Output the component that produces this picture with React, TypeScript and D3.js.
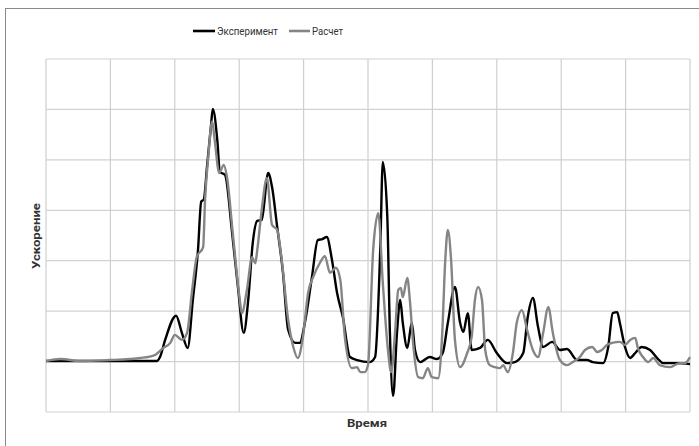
import React from "react";
import * as d3 from "d3";

// Эксперимент (black)
const expTime = [0, 0.84, 1.72, 1.77, 1.85, 2.02, 2.11, 2.2, 2.28, 2.36, 2.41, 2.45, 2.5, 2.56, 2.59, 2.66, 2.7, 2.78, 2.89, 2.98, 3.07, 3.14, 3.21, 3.28, 3.35, 3.45, 3.51, 3.59, 3.68, 3.76, 3.87, 3.94, 4.02, 4.13, 4.22, 4.29, 4.36, 4.44, 4.52, 4.61, 4.72, 4.83, 5.03, 5.11, 5.19, 5.23, 5.3, 5.34, 5.39, 5.45, 5.5, 5.54, 5.61, 5.68, 5.73, 5.81, 5.96, 6.07, 6.16, 6.24, 6.35, 6.43, 6.48, 6.55, 6.61, 6.74, 6.86, 7.0, 7.16, 7.28, 7.41, 7.48, 7.56, 7.64, 7.72, 7.86, 7.98, 8.09, 8.25, 8.4, 8.49, 8.65, 8.73, 8.8, 8.87, 8.91, 8.99, 9.07, 9.15, 9.25, 9.38, 9.49, 9.58, 9.8, 10.0];
const expAccel = [0.01, 0.01, 0.01, 0.09, 0.43, 0.91, 0.57, 0.27, 1.22, 2.21, 3.17, 3.21, 3.86, 4.65, 5.01, 4.39, 3.76, 3.7, 2.55, 1.48, 0.57, 1.22, 2.35, 2.79, 2.81, 3.74, 3.46, 2.67, 1.76, 0.63, 0.37, 0.37, 0.77, 1.68, 2.41, 2.43, 2.47, 2.02, 1.36, 0.88, 0.09, 0.03, -0.01, 0.09, 2.21, 3.96, 2.87, 0.57, -0.68, 0.57, 1.22, 0.77, 0.27, 0.77, 0.23, -0.01, 0.09, 0.05, 0.17, 0.77, 1.48, 0.77, 0.59, 0.96, 0.23, 0.27, 0.43, 0.17, -0.03, -0.01, 0.17, 0.88, 1.26, 0.69, 0.29, 0.39, 0.23, 0.25, 0.03, 0.03, -0.01, -0.03, 0.29, 0.96, 0.98, 0.77, 0.29, 0.07, 0.17, 0.29, 0.23, 0.07, -0.03, -0.03, -0.05];

// Расчет (gray)
const calcTime = [0, 0.22, 0.53, 0.99, 1.3, 1.46, 1.69, 1.82, 1.93, 2.0, 2.11, 2.19, 2.27, 2.34, 2.44, 2.47, 2.52, 2.58, 2.62, 2.69, 2.76, 2.81, 2.9, 3.01, 3.04, 3.12, 3.2, 3.25, 3.28, 3.35, 3.43, 3.51, 3.59, 3.66, 3.76, 3.84, 3.91, 3.99, 4.07, 4.15, 4.25, 4.33, 4.41, 4.5, 4.57, 4.64, 4.75, 4.83, 4.88, 4.95, 5.0, 5.08, 5.16, 5.23, 5.31, 5.36, 5.42, 5.47, 5.51, 5.54, 5.61, 5.65, 5.7, 5.78, 5.85, 5.93, 5.99, 6.09, 6.15, 6.2, 6.24, 6.29, 6.35, 6.43, 6.54, 6.61, 6.66, 6.71, 6.77, 6.82, 6.89, 6.97, 7.05, 7.1, 7.17, 7.25, 7.31, 7.39, 7.47, 7.56, 7.64, 7.72, 7.8, 7.87, 7.98, 8.09, 8.18, 8.29, 8.37, 8.48, 8.56, 8.63, 8.71, 8.79, 8.91, 8.99, 9.07, 9.15, 9.19, 9.27, 9.35, 9.43, 9.53, 9.69, 9.84, 9.92, 10.0];
const calcAccel = [0.01, 0.05, 0.01, 0.03, 0.05, 0.07, 0.13, 0.27, 0.37, 0.53, 0.43, 0.57, 1.42, 2.07, 2.27, 3.21, 4.06, 4.76, 4.39, 3.74, 3.9, 3.66, 2.55, 1.22, 0.96, 1.42, 2.07, 1.95, 2.21, 3.01, 3.64, 2.71, 2.61, 2.02, 0.83, 0.29, 0.07, 0.49, 1.36, 1.68, 1.95, 2.09, 1.76, 1.86, 1.62, 0.49, -0.13, -0.11, -0.21, -0.21, -0.07, 2.21, 2.94, 1.56, 0.23, -0.21, 0.57, 1.42, 1.46, 1.28, 1.66, 1.22, 0.37, -0.31, -0.33, -0.13, -0.31, -0.33, 0.49, 2.02, 2.61, 2.02, 0.43, -0.11, 0.17, 0.49, 1.22, 1.48, 1.22, 0.23, -0.07, -0.11, -0.13, -0.07, -0.21, 0.17, 0.77, 1.02, 0.63, 0.23, 0.09, 0.57, 1.08, 0.57, 0.03, -0.07, -0.01, 0.09, 0.23, 0.29, 0.19, 0.23, 0.33, 0.37, 0.39, 0.33, 0.43, 0.47, 0.27, 0.09, -0.01, 0.07, -0.07, -0.11, -0.03, -0.03, 0.09];

const seriesNames = ["Эксперимент", "Расчет"];

const W = 699;
const H = 446;
const plot = { left: 46, right: 690, top: 59, bottom: 412 };

export default function App() {
  const x = d3.scaleLinear().domain([0, 10]).range([plot.left, plot.right]);
  const y = d3.scaleLinear().domain([-1, 6]).range([plot.bottom, plot.top]);

  const line = d3
    .line<[number, number]>()
    .x((d) => x(d[0]))
    .y((d) => y(d[1]))
    .curve(d3.curveMonotoneX);

  const expPath = line(expTime.map((t, i) => [t, expAccel[i]]));
  const calcPath = line(calcTime.map((t, i) => [t, calcAccel[i]]));

  const font = "Roboto, 'Liberation Sans', sans-serif";

  return (
    <svg
      width={W}
      height={H}
      style={{ position: "absolute", left: 0, top: 0, background: "#fff" }}
    >
      <rect x={5.5} y={8.5} width={720} height={460} fill="#fff" stroke="#8a8a8a" />

      {/* grid */}
      {y.ticks(7).map((v) => (
        <line key={"h" + v} x1={plot.left} x2={plot.right} y1={y(v)} y2={y(v)} stroke="#d2d2d2" strokeWidth={1.2} />
      ))}
      {x.ticks(10).map((v) => (
        <line key={"v" + v} x1={x(v)} x2={x(v)} y1={plot.top} y2={plot.bottom} stroke="#cfcfcf" strokeWidth={1.2} />
      ))}

      <path d={expPath || ""} fill="none" stroke="#000" strokeWidth={2.4} strokeLinejoin="round" />
      <path d={calcPath || ""} fill="none" stroke="#858585" strokeWidth={2.4} strokeLinejoin="round" />

      {/* legend */}
      <line x1={193} x2={215} y1={31} y2={31} stroke="#000" strokeWidth={2.6} />
      <text x={217} y={35} fontFamily={font} fontSize={11} fill="#333" textLength={61} lengthAdjust="spacingAndGlyphs">
        {seriesNames[0]}
      </text>
      <line x1={289} x2={310} y1={31} y2={31} stroke="#858585" strokeWidth={2.6} />
      <text x={312} y={35} fontFamily={font} fontSize={11} fill="#333" textLength={31} lengthAdjust="spacingAndGlyphs">
        {seriesNames[1]}
      </text>

      {/* axis titles */}
      <text x={367} y={427} textAnchor="middle" fontFamily={font} fontSize={11} fontWeight="bold" fill="#333" textLength={40} lengthAdjust="spacingAndGlyphs">
        Время
      </text>
      <text
        transform="translate(40,236) rotate(-90)"
        textAnchor="middle"
        fontFamily={font}
        fontSize={11}
        fontWeight="bold"
        fill="#333"
        textLength={66}
        lengthAdjust="spacingAndGlyphs"
      >
        Ускорение
      </text>
    </svg>
  );
}
